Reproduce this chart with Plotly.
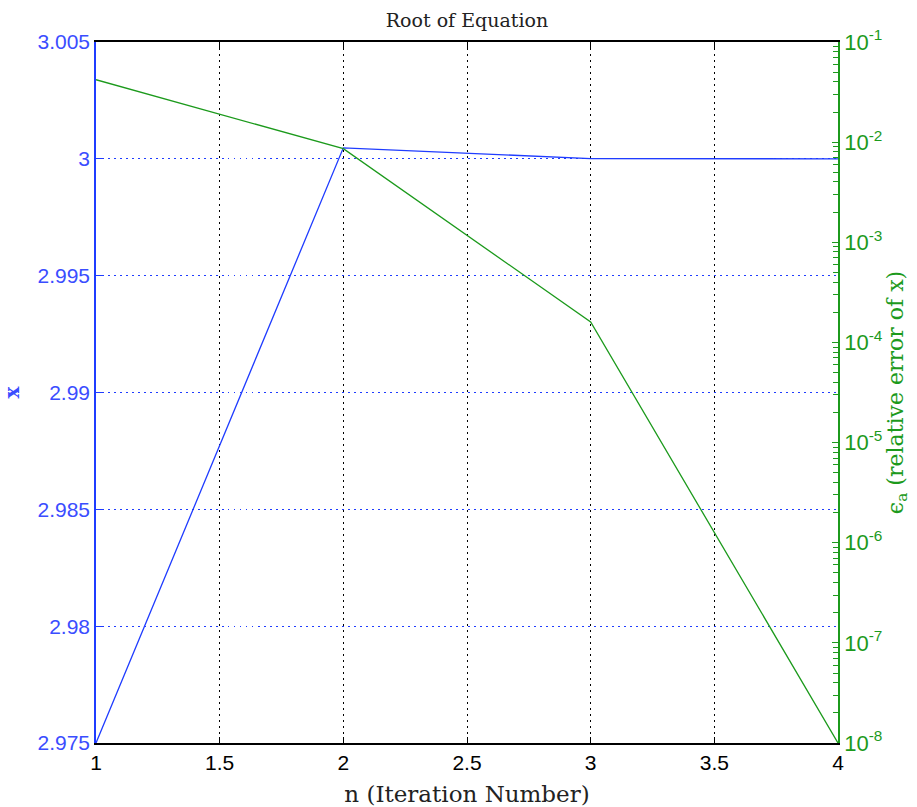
import plotly.graph_objects as go

# Iteration data
n_iter = [1, 2, 3, 4]
x_root = [2.975, 3.00047, 3.00001, 3.0]
rel_err = [0.042, 0.0086, 1.6e-4, 1e-8]

# Axis ticks
x_ticks = [1, 1.5, 2, 2.5, 3, 3.5, 4]
y_ticks = [2.975, 2.98, 2.985, 2.99, 2.995, 3.0, 3.005]
y_ticktext = ["2.975", "2.98", "2.985", "2.99", "2.995", "3", "3.005"]
err_exps = [-8, -7, -6, -5, -4, -3, -2, -1]

BLUE = "#1f3cff"
BLUE_TXT = "#3a4dff"
GREEN = "#1c9a1c"
SERIF = "DejaVu Serif, Liberation Serif, serif"
SANS = "Liberation Sans, Arial, sans-serif"
DOTS = "1.5px,4.5px"

err_tickvals = [10.0 ** e for e in err_exps]
err_ticktext = ["10<sup>%d</sup>" % e for e in err_exps]
err_minor = [k * 10.0 ** e for e in err_exps[:-1] for k in range(2, 10)]

fig = go.Figure()
fig.add_trace(go.Scatter(x=n_iter, y=x_root, mode="lines",
                         line=dict(color=BLUE, width=1.3), yaxis="y",
                         showlegend=False))
fig.add_trace(go.Scatter(x=n_iter, y=rel_err, mode="lines",
                         line=dict(color=GREEN, width=1.3), yaxis="y2",
                         showlegend=False))

fig.update_layout(
    width=917, height=807,
    margin=dict(l=96, r=79, t=42, b=64, autoexpand=False),
    paper_bgcolor="white", plot_bgcolor="white",
    title=dict(text="Root of Equation", x=0.5, xref="paper", xanchor="center",
               y=1 - 20 / 807, yanchor="middle",
               font=dict(family=SERIF, size=19, color="#222")),
    xaxis=dict(range=[1, 4], tickvals=x_ticks, automargin=False,
               ticktext=[("%g" % v) for v in x_ticks],
               ticks="inside", ticklen=6, tickcolor="black",
               showline=True, linecolor="black", linewidth=1.5, mirror="ticks",
               showgrid=True, gridcolor="black", griddash=DOTS, gridwidth=1.2,
               zeroline=False,
               tickfont=dict(family=SANS, size=21, color="black"),
               title=dict(text="n (Iteration Number)", standoff=13,
                          font=dict(family=SERIF, size=23, color="#222"))),
    yaxis=dict(range=[2.975, 3.005], tickvals=y_ticks, ticktext=y_ticktext,
               automargin=False,
               ticks="inside", ticklen=6, tickcolor=BLUE,
               showline=True, linecolor=BLUE, linewidth=1.5,
               showgrid=True, gridcolor=BLUE, griddash=DOTS, gridwidth=1.2,
               zeroline=False,
               tickfont=dict(family=SANS, size=21, color=BLUE_TXT),
               title=dict(text="<b>x</b>", standoff=16,
                          font=dict(family=SERIF, size=20, color=BLUE_TXT))),
    yaxis2=dict(type="log", range=[-8, -1], overlaying="y", side="right",
                tickvals=err_tickvals, ticktext=err_ticktext,
                automargin=False,
                ticks="inside", ticklen=6, tickcolor=GREEN,
                minor=dict(tickvals=err_minor, ticks="inside", ticklen=5,
                           tickcolor=GREEN, showgrid=False),
                showline=True, linecolor=GREEN, linewidth=1.5,
                showgrid=False, zeroline=False,
                tickfont=dict(family=SANS, size=22, color=GREEN),
                title=dict(text="\u03f5<sub>a</sub> (relative error of x)",
                           standoff=5,
                           font=dict(family=SERIF, size=22, color=GREEN))),
)

fig.write_html("out.html")
